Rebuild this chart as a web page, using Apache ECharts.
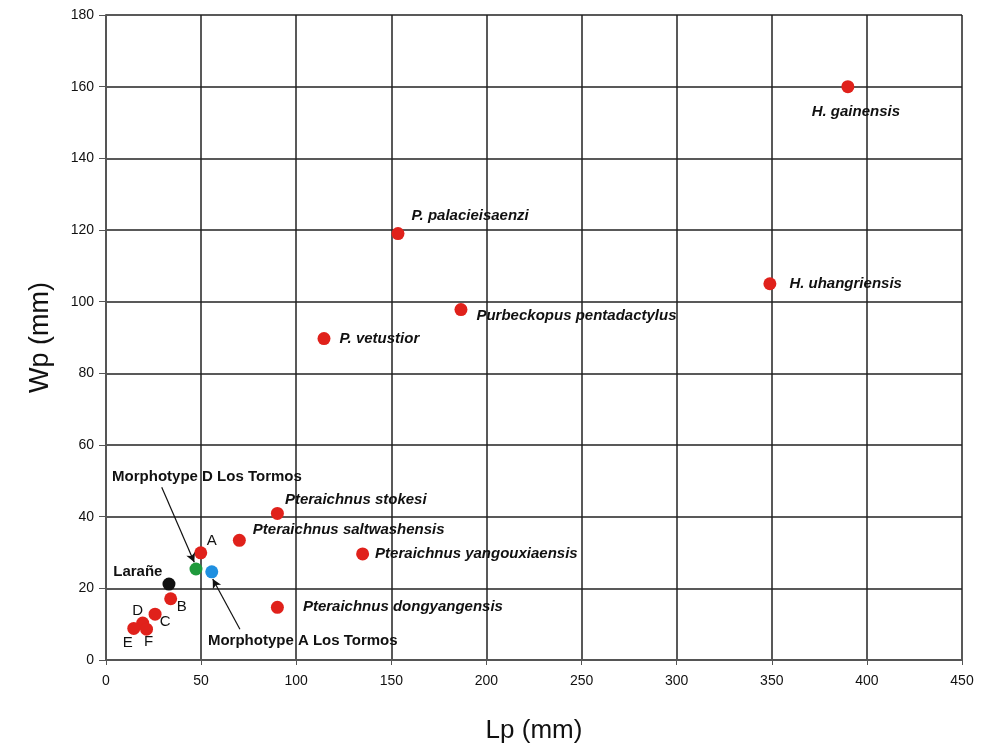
<!DOCTYPE html>
<html><head><meta charset="utf-8">
<script src="https://cdn.jsdelivr.net/npm/echarts@6/dist/echarts.min.js"></script>
<style>html,body{margin:0;padding:0;background:#fff}#c{width:984px;height:749px}</style>
</head><body><div id="c"></div>
<script>
// ---- data ----
const names = ["H. gainensis","H. uhangriensis","P. palacieisaenzi","Purbeckopus pentadactylus","P. vetustior",
  "Pteraichnus stokesi","Pteraichnus saltwashensis","Pteraichnus yangouxiaensis","Pteraichnus dongyangensis",
  "A","B","C","D","E","F","Larañe","Morphotype D Los Tormos","Morphotype A Los Tormos"];
const lp = [390,349,153.5,186.6,114.6,90.1,70.1,134.9,90.1,49.8,34.0,25.8,19.3,14.6,21.3,33.1,47.3,55.6];
const wp = [160,105,119,97.8,89.7,40.9,33.4,29.6,14.7,29.9,17.1,12.8,10.3,8.8,8.6,21.2,25.4,24.6];
const groups = ["ichno","ichno","ichno","ichno","ichno","ichno","ichno","ichno","ichno",
  "letter","letter","letter","letter","letter","letter","larane","morphD","morphA"];
const xTicks = [0,450,50];
const yTicks = [0,180,20];
// arrows: [fromLp, fromWp, toLp, toWp]
const arrows = [[29.3,48.2,46.4,27.3],[70.4,8.6,56.1,22.6]];

// ---- styles ----
const colors = {ichno:"#e0211b", letter:"#e0211b", larane:"#111111", morphD:"#1f9a3c", morphA:"#1f8fe0"};
const labelCfg = [
  {pos:"bottom", off:[8,6]},
  {pos:"right", off:[8,0]},
  {pos:"right", off:[2,-18]},
  {pos:"right", off:[4,6]},
  {pos:"right", off:[4,0]},
  {pos:"right", off:[-4,-14]},
  {pos:"right", off:[2,-10]},
  {pos:"right", off:[1,0]},
  {pos:"right", off:[14,0]},
  {pos:"inside", off:[11,-12]},
  {pos:"inside", off:[11,8]},
  {pos:"inside", off:[10,8]},
  {pos:"inside", off:[-5,-12]},
  {pos:"inside", off:[-6,14]},
  {pos:"inside", off:[2,13]},
  {pos:"left", off:[5,-12]},
  {pos:"inside", off:[11,-92]},
  {pos:"inside", off:[91,69]}
];
const data = names.map((n,i)=>{
  const g = groups[i];
  let font = {fontFamily:"Liberation Sans, Arial", fontSize:15, fontWeight:"bold", fontStyle:"italic", color:"#111"};
  if (g==="letter") font = {fontFamily:"Liberation Sans, Arial", fontSize:15, fontWeight:"normal", fontStyle:"normal", color:"#111"};
  if (g==="larane"||g==="morphD"||g==="morphA") font.fontStyle="normal";
  return {
    name:n, value:[lp[i], wp[i]],
    itemStyle:{color:colors[g], opacity:1},
    label:Object.assign({show:true, formatter:n, position:labelCfg[i].pos, offset:labelCfg[i].off, distance:5}, font)
  };
});

const chart = echarts.init(document.getElementById('c'), null, {renderer:'canvas'});
chart.setOption({
  animation:false,
  backgroundColor:"#ffffff",
  grid:{left:106, right:22, top:15, bottom:88},
  xAxis:{type:"value", min:xTicks[0], max:xTicks[1], interval:xTicks[2],
    name:"Lp (mm)", nameLocation:"middle", nameGap:58,
    nameTextStyle:{fontFamily:"Liberation Sans, Arial", fontSize:26, color:"#111"},
    axisLine:{show:true, onZero:false, lineStyle:{color:"#555", width:2}},
    axisTick:{show:true, inside:false, length:5, lineStyle:{color:"#555"}},
    axisLabel:{fontFamily:"Liberation Sans, Arial", fontSize:14, color:"#111", margin:14},
    splitLine:{show:true, lineStyle:{color:"#222", width:1.5}}
  },
  yAxis:{type:"value", min:yTicks[0], max:yTicks[1], interval:yTicks[2],
    name:"Wp (mm)", nameLocation:"middle", nameGap:52, nameRotate:90,
    nameTextStyle:{fontFamily:"Liberation Sans, Arial", fontSize:27, color:"#111"},
    axisLine:{show:true, onZero:false, lineStyle:{color:"#555", width:2}},
    axisTick:{show:true, inside:false, length:7, lineStyle:{color:"#555"}},
    axisLabel:{fontFamily:"Liberation Sans, Arial", fontSize:14, color:"#111", margin:12},
    splitLine:{show:true, lineStyle:{color:"#222", width:1.5}}
  },
  series:[
    {type:"scatter", symbolSize:13, data:data, z:3,
      markLine:{silent:true, symbol:["none","arrow"], symbolSize:[7,9],
        lineStyle:{color:"#111", width:1.2, type:"solid", opacity:1}, label:{show:false},
        data: arrows.map(a=>[{coord:[a[0],a[1]]},{coord:[a[2],a[3]]}])}
    }
  ]
});
</script></body></html>
